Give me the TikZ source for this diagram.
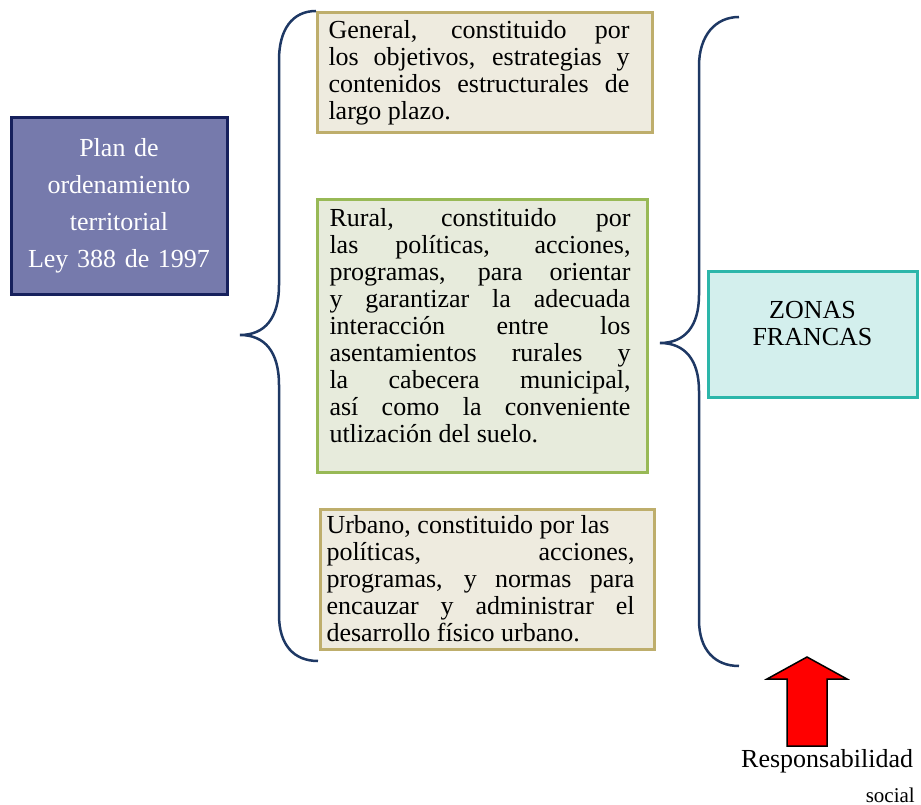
\documentclass[tikz,border=0pt]{standalone}
\usepackage{fontspec}
\setmainfont{Liberation Serif}
\usetikzlibrary{calc}
\definecolor{planfill}{RGB}{118,122,172}
\definecolor{planline}{RGB}{22,32,92}
\definecolor{genfill}{RGB}{238,235,223}
\definecolor{genline}{RGB}{190,174,108}
\definecolor{rurfill}{RGB}{231,235,220}
\definecolor{rurline}{RGB}{152,185,86}
\definecolor{zonfill}{RGB}{211,239,237}
\definecolor{zonline}{RGB}{44,182,170}
\definecolor{bracecol}{RGB}{30,56,100}
\tolerance=10000
\hbadness=10000
% justified block, pushed left inside its box by the trailing gap
\newcommand{\boxtext}[3]{\parbox{#1}{#3}\hspace{#2}\mbox{}}
\newcommand{\bottomgap}[1]{\rule[-#1]{0pt}{#1}}
\tikzset{
  textbox/.style={draw, line width=3pt, anchor=north west, inner sep=0pt,
    font=\fontsize{26}{27}\selectfont},
  brace/.style={draw=bracecol, line width=2.5pt}
}

\begin{document}
\begin{tikzpicture}[x=1pt,y=-1pt]
\useasboundingbox (0,0) rectangle (921,805);
% left box
\node[draw=planline, fill=planfill, line width=3pt, anchor=north west, inner sep=0pt,
  minimum width=216pt, minimum height=176pt, text width=210pt, align=center,
  text=white, font=\fontsize{26}{37}\selectfont] (plan) at (9.5,116.5)
  {Plan de\\ordenamiento\\territorial\\Ley 388 de 1997};
% the three components
\node[textbox, draw=genline, fill=genfill, minimum width=335pt, minimum height=120pt] (general) at (315.5,11.5)
  {\boxtext{301pt}{11pt}{General, constituido por\linebreak los objetivos, estrategias y\linebreak contenidos estructurales de\linebreak largo plazo.}};
\node[textbox, draw=rurline, fill=rurfill, minimum width=330pt, minimum height=272pt] (rural) at (315.5,198.5)
  {\boxtext{301pt}{4pt}{Rural, constituido por\linebreak las políticas, acciones,\linebreak programas, para orientar\linebreak y garantizar la adecuada\linebreak interacción entre los\linebreak asentamientos rurales y\linebreak la cabecera municipal,\linebreak así como la conveniente\linebreak utlización del suelo.\bottomgap{21pt}}};
\node[textbox, draw=genline, fill=genfill, minimum width=334pt, minimum height=140pt] (urbano) at (318.5,507.5)
  {\boxtext{308pt}{13pt}{Urbano, constituido por las\newline políticas, acciones,\linebreak programas, y normas para\linebreak encauzar y administrar el\linebreak desarrollo físico urbano.}};
% right box
\node[draw=zonline, fill=zonfill, line width=3pt, anchor=north west, inner sep=0pt,
  minimum width=209pt, minimum height=126pt, text width=190pt, align=center,
  font=\fontsize{26}{27}\selectfont] (zonas) at (706.5,269.5)
  {ZONAS\\FRANCAS\bottomgap{21pt}};
% braces
\draw[brace] (316,11) .. controls (292,11) and (279,30) .. (279,60) -- (279,285)
  .. controls (279,318) and (265,335) .. (240,335)
  .. controls (265,335) and (279,352) .. (279,385) -- (279,615)
  .. controls (279,645) and (294,661) .. (318,661);
\draw[brace] (739,17) .. controls (715,17) and (699,36) .. (699,66) -- (699,295)
  .. controls (699,326) and (685,343) .. (660,343)
  .. controls (685,343) and (699,360) .. (699,391) -- (699,620)
  .. controls (699,650) and (715,666) .. (739,666);
% arrow
\filldraw[fill=red, draw=black, line width=1.5pt, line join=miter]
  (807,657) -- (847,679) -- (827,679) -- (827,746) -- (787,746) -- (787,679) -- (767,679) -- cycle;
\node[anchor=base west, inner sep=0pt, font=\fontsize{26}{27}\selectfont] (resp) at (741,767) {Responsabilidad};
\node[anchor=base east, inner sep=0pt, font=\fontsize{21}{24}\selectfont] (social) at (915,802) {social};
\end{tikzpicture}
\end{document}
